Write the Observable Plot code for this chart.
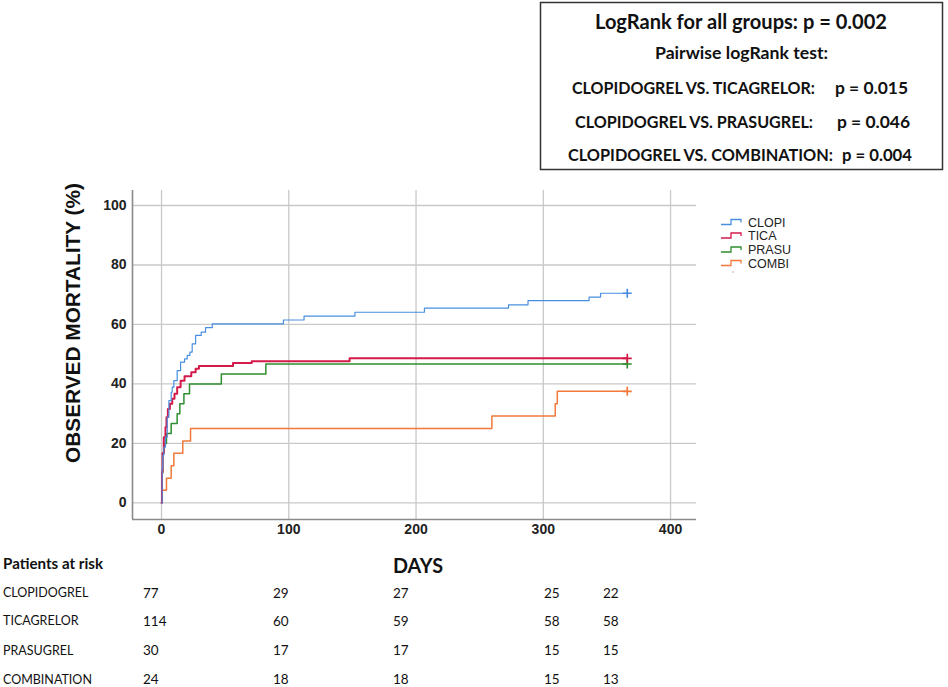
<!DOCTYPE html>
<html>
<head>
<meta charset="utf-8">
<script src="https://cdn.jsdelivr.net/npm/d3@7"></script>
<script src="https://cdn.jsdelivr.net/npm/@observablehq/plot@0.6"></script>
<style>
  html, body { margin: 0; padding: 0; background: #fff; }
  #wrap { position: relative; width: 948px; height: 687px; overflow: hidden; background: #fff; }
  #chart { position: absolute; left: 0; top: 170px; }
  #overlay { position: absolute; left: 0; top: 0; pointer-events: none; }
</style>
</head>
<body>
<div id="wrap">
  <div id="chart"></div>
  <svg id="overlay" width="948" height="687"></svg>
</div>
<script>
// ---------- data ----------
const groups = ["CLOPI", "TICA", "PRASU", "COMBI"];
const colors = ["#4a8fdf", "#d41a4a", "#2f8f2f", "#f2793b"];
const endDay = 366;

const clopiDays = [0, 0.5, 1, 1.8, 3.1, 4.5, 5.8, 7.6, 8.4, 9.7, 12.3, 15, 18.1, 20.2, 22.3, 24.1, 26.8, 31.2, 34.6, 39.9, 95.8, 112, 152, 206.6, 272.7, 288, 336, 345];
const clopiMort = [0, 12, 16, 18.7, 22.1, 28.8, 34.4, 37.2, 38.9, 41.1, 44.5, 47.3, 48.4, 49.6, 50.7, 53.5, 56.3, 57.4, 58.9, 60.2, 61.5, 62.8, 64.1, 65.5, 66.6, 68.0, 69.2, 70.5];

const ticaDays = [0, 0.4, 0.8, 1.8, 3.1, 3.9, 5, 6.6, 8.4, 10.2, 12.3, 15, 18.1, 23.4, 26.8, 29.4, 56.2, 70.9, 147.8];
const ticaMort = [0, 10.5, 16.7, 22.1, 25.4, 28.8, 31.6, 33.3, 35, 36.7, 38.9, 41.1, 42.6, 43.9, 45.1, 46, 47, 47.6, 48.6];

const prasuDays = [0, 0.3, 1, 2, 3.9, 7.6, 12.3, 14.4, 17.6, 22, 47, 82];
const prasuMort = [0, 10, 16.7, 20, 23.3, 26.7, 30, 33.3, 36.7, 40, 43.3, 46.7];

const combiDays = [0, 0.5, 3.9, 7.6, 9.7, 16.7, 22.8, 259.6, 309.4, 311];
const combiMort = [0, 4.2, 8.3, 12.5, 16.7, 20.8, 25, 29.2, 33.3, 37.5];

const xTicks = [0, 100, 200, 300, 400];
const yTicks = [0, 20, 40, 60, 80, 100];

const riskGroups = ["CLOPIDOGREL", "TICAGRELOR", "PRASUGREL", "COMBINATION"];
const riskCounts = [
  [77, 29, 27, 25, 22],
  [114, 60, 59, 58, 58],
  [30, 17, 17, 15, 15],
  [24, 18, 18, 15, 13]
];

const boxLines = [
  "LogRank  for all groups:  p = 0.002",
  "Pairwise logRank test:"
];
const pairLabels = ["CLOPIDOGREL VS. TICAGRELOR:", "CLOPIDOGREL VS. PRASUGREL:", "CLOPIDOGREL VS. COMBINATION:"];
const pairP = ["p = 0.015", "p = 0.046", "p = 0.004"];

// ---------- build series ----------
const seriesDays = [clopiDays, ticaDays, prasuDays, combiDays];
const seriesMort = [clopiMort, ticaMort, prasuMort, combiMort];
const series = groups.map((g, i) => {
  const pts = seriesDays[i].map((d, j) => ({group: g, day: d, mort: seriesMort[i][j]}));
  pts.push({group: g, day: endDay, mort: seriesMort[i][seriesMort[i].length - 1]});
  return pts;
});
const ends = series.map(s => s[s.length - 1]);

const xDomain = [-22.8, 420.4];
const yDomain = [-5.6, 105.05];
const widths = [1.2, 2, 1.5, 1.5];

const lineMarks = [3, 2, 1, 0].map(i =>
  Plot.line(series[i], {x: "day", y: "mort", curve: "step-after", stroke: colors[i], strokeWidth: widths[i]})
);
const censorMarks = [3, 2, 1, 0].map(i =>
  Plot.dot([ends[i]], {x: "day", y: "mort", symbol: "plus", r: 3, stroke: colors[i], strokeWidth: 1.7})
);

const chart = Plot.plot({
  width: 948,
  height: 375,
  marginTop: 20,
  marginBottom: 26,
  marginLeft: 132,
  marginRight: 252,
  style: {fontFamily: "'Liberation Sans', Arial, sans-serif", fontSize: "14px", fontWeight: "bold", color: "#222", background: "#fff"},
  x: {domain: xDomain},
  y: {domain: yDomain},
  marks: [
    Plot.gridX(xTicks, {stroke: "#c9c9c9", strokeOpacity: 1, strokeWidth: 1.3}),
    Plot.gridY(yTicks, {stroke: "#c9c9c9", strokeOpacity: 1, strokeWidth: 1.3}),
    Plot.ruleX([xDomain[0]], {stroke: "#8a8a8a", strokeWidth: 1.6}),
    Plot.ruleY([yDomain[0]], {stroke: "#8a8a8a", strokeWidth: 1.6}),
    Plot.axisX(xTicks, {tickSize: 0, tickPadding: 5, label: null, fill: "#222"}),
    Plot.axisY(yTicks, {tickSize: 0, tickPadding: 6, label: null, fill: "#222"}),
    ...lineMarks,
    ...censorMarks
  ]
});
document.getElementById("chart").appendChild(chart);

// ---------- annotations ----------
const ov = d3.select("#overlay");
const calibri = "Lato, 'Open Sans', sans-serif";
const arial = "'Liberation Sans', Arial, sans-serif";

// stats box
ov.append("rect").attr("x", 540.5).attr("y", 2.5).attr("width", 402).attr("height", 167)
  .attr("fill", "none").attr("stroke", "#333").attr("stroke-width", 1.5);
ov.append("text").attr("x", 595).attr("y", 29).attr("textLength", 292).attr("lengthAdjust", "spacingAndGlyphs")
  .attr("font-family", calibri).attr("font-weight", "bold").attr("font-size", 20).attr("fill", "#111").text(boxLines[0]);
ov.append("text").attr("x", 655).attr("y", 59.3).attr("textLength", 173).attr("lengthAdjust", "spacingAndGlyphs")
  .attr("font-family", calibri).attr("font-weight", "bold").attr("font-size", 17).attr("fill", "#111").text(boxLines[1]);
const pairY = [94.4, 127.8, 161];
const pairX = [[572, 243, 835, 73], [575, 238, 837, 73], [568, 265, 842, 70]];
pairLabels.forEach((t, i) => {
  ov.append("text").attr("x", pairX[i][0]).attr("y", pairY[i]).attr("textLength", pairX[i][1]).attr("lengthAdjust", "spacingAndGlyphs")
    .attr("font-family", calibri).attr("font-weight", "bold").attr("font-size", 17).attr("fill", "#111").text(t);
  ov.append("text").attr("x", pairX[i][2]).attr("y", pairY[i]).attr("textLength", pairX[i][3]).attr("lengthAdjust", "spacingAndGlyphs")
    .attr("font-family", calibri).attr("font-weight", "bold").attr("font-size", 17).attr("fill", "#111").text(pairP[i]);
});

// y-axis title
ov.append("text").attr("transform", "translate(80,323) rotate(-90)").attr("text-anchor", "middle")
  .attr("textLength", 280).attr("lengthAdjust", "spacingAndGlyphs")
  .attr("font-family", arial).attr("font-weight", "bold").attr("font-size", 19.5).attr("fill", "#111")
  .text("OBSERVED MORTALITY (%)");

// legend
const legY = [222.5, 236, 250, 263.5];
groups.forEach((g, i) => {
  const r = legY[i];
  ov.append("path").attr("d", `M721,${r + 2}H731V${r - 3}H741V${r}`).attr("fill", "none")
    .attr("stroke", colors[i]).attr("stroke-width", 1.3);
  ov.append("text").attr("x", 748).attr("y", r + 4.4).attr("font-family", arial).attr("font-size", 12.5)
    .attr("fill", "#222").text(g);
});
ov.append("circle").attr("cx", 733).attr("cy", 272).attr("r", 0.8).attr("fill", "#9aa");

// DAYS
ov.append("text").attr("x", 393).attr("y", 573.3).attr("textLength", 50).attr("lengthAdjust", "spacingAndGlyphs")
  .attr("font-family", calibri).attr("font-weight", "bold").attr("font-size", 21).attr("fill", "#111").text("DAYS");

// patients at risk table
ov.append("text").attr("x", 3).attr("y", 569).attr("textLength", 100).attr("lengthAdjust", "spacingAndGlyphs")
  .attr("font-family", calibri).attr("font-weight", "bold").attr("font-size", 15).attr("fill", "#111").text("Patients at risk");
const rowY = [597, 625.3, 654.6, 683.6];
const colX = [143, 273, 393, 544, 603];
riskGroups.forEach((g, i) => {
  ov.append("text").attr("x", 3).attr("y", rowY[i]).attr("font-family", calibri).attr("font-size", 12.5)
    .attr("fill", "#111").text(g);
  riskCounts[i].forEach((v, j) => {
    ov.append("text").attr("x", colX[j]).attr("y", rowY[i] + 0.5).attr("font-family", calibri).attr("font-size", 13.5)
      .attr("fill", "#111").text(v);
  });
});
</script>
</body>
</html>
